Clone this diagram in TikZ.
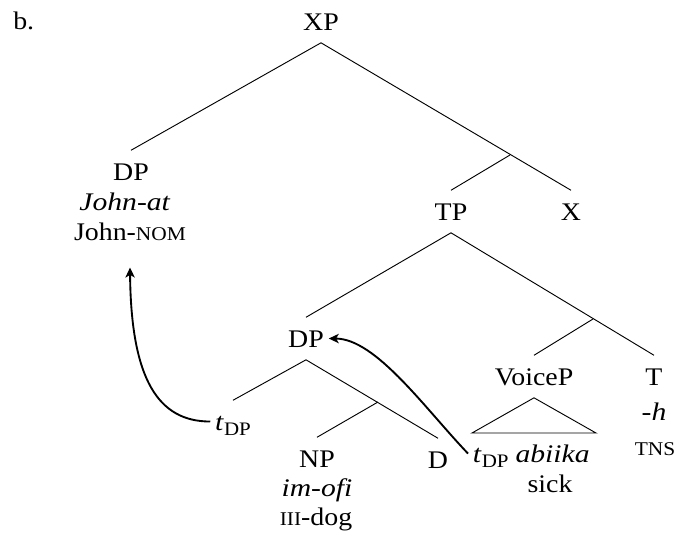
\documentclass[tikz,border=0pt]{standalone}
\usepackage{fontspec}
\setmainfont{Liberation Serif}[FakeStretch=1.1,ItalicFeatures={FakeStretch=1.17}]
\usetikzlibrary{arrows.meta,calc}

% small capitals for glosses
\newcommand{\glsc}[1]{{\fontsize{14.6pt}{14.6pt}\selectfont #1}}
% trace with its subscript
\newcommand{\trace}{\textit{t}\raisebox{-3.8pt}{\fontsize{14.3pt}{14.3pt}\selectfont DP}}

\begin{document}
\begin{tikzpicture}[x=0.75pt,y=-0.75pt,
  every node/.style={font=\fontsize{19pt}{22pt}\selectfont, inner sep=0pt},
  lab/.style={anchor=base, text height=12.7pt, text depth=0pt, inner ysep=9.4pt, inner xsep=3.5pt},
  gl/.style={anchor=base},
  branch/.style={line width=0.7pt},
  move/.style={line width=1.4pt, -{Stealth[length=7.5pt,width=7pt,inset=2pt]}}]
\useasboundingbox (0,0) rectangle (675,544);

% labels
\node[anchor=base west] (ex) at (13,29) {b.};
\node[lab] (xp) at (321,30) {XP};
\node[lab] (dpa) at (131,180) {DP};
\node[gl] (dpa-w) at (125,210) {\textit{John-at}};
\node[gl] (dpa-g) at (130,240) {John-\glsc{NOM}};
\coordinate (xbar) at (510,155);
\node[lab] (tp) at (451,220) {TP};
\node[lab] (x) at (571,220) {X};
\coordinate (tbar) at (593,319);
\node[lab] (dpb) at (306,347) {DP};
\node[lab] (voicep) at (534,385) {VoiceP};
\node[lab] (t) at (654,385) {T};
\node[gl] (t-w) at (654,420) {\textit{-h}};
\node[gl] (t-g) at (655,455) {\glsc{TNS}};
\coordinate (dbar) at (378,402);
\node[lab] (tdpa) at (233,430) {\trace};
\node[lab] (np) at (317,467) {NP};
\node[gl] (np-w) at (317,496) {\textit{im-ofi}};
\node[gl] (np-g) at (316,525) {\glsc{III}-dog};
\node[lab] (d) at (438,468) {D};
\node[lab, anchor=base west] (tdpb) at (468,462) {\trace\ \textit{abiika}};
\node[gl] (vp-g) at (550,492) {sick};
\coordinate (tri-l) at (472,433);
\coordinate (tri-r) at (596,433);

% branches
\draw[branch] (xp.south) -- (dpa.north);
\draw[branch] (xp.south) -- (x.north);
\draw[branch] (xbar) -- (tp.north);
\draw[branch] (tp.south) -- (dpb.north);
\draw[branch] (tp.south) -- (t.north);
\draw[branch] (tbar) -- (voicep.north);
\draw[branch] (dpb.south) -- (tdpa.north);
\draw[branch] (dpb.south) -- (d.north);
\draw[branch] (dbar) -- (np.north);
\draw[branch] (voicep.south) -- (tri-l) -- (tri-r) -- cycle;

% movement arrows
\draw[move] (tdpa.west) .. controls +(-52,0) and +(1,112) .. ($(dpa-g.south)+(0,27)$);
\draw[move] (tdpb.west) .. controls +(-43,-45) and +(47,0) .. (dpb.east);
\end{tikzpicture}
\end{document}
